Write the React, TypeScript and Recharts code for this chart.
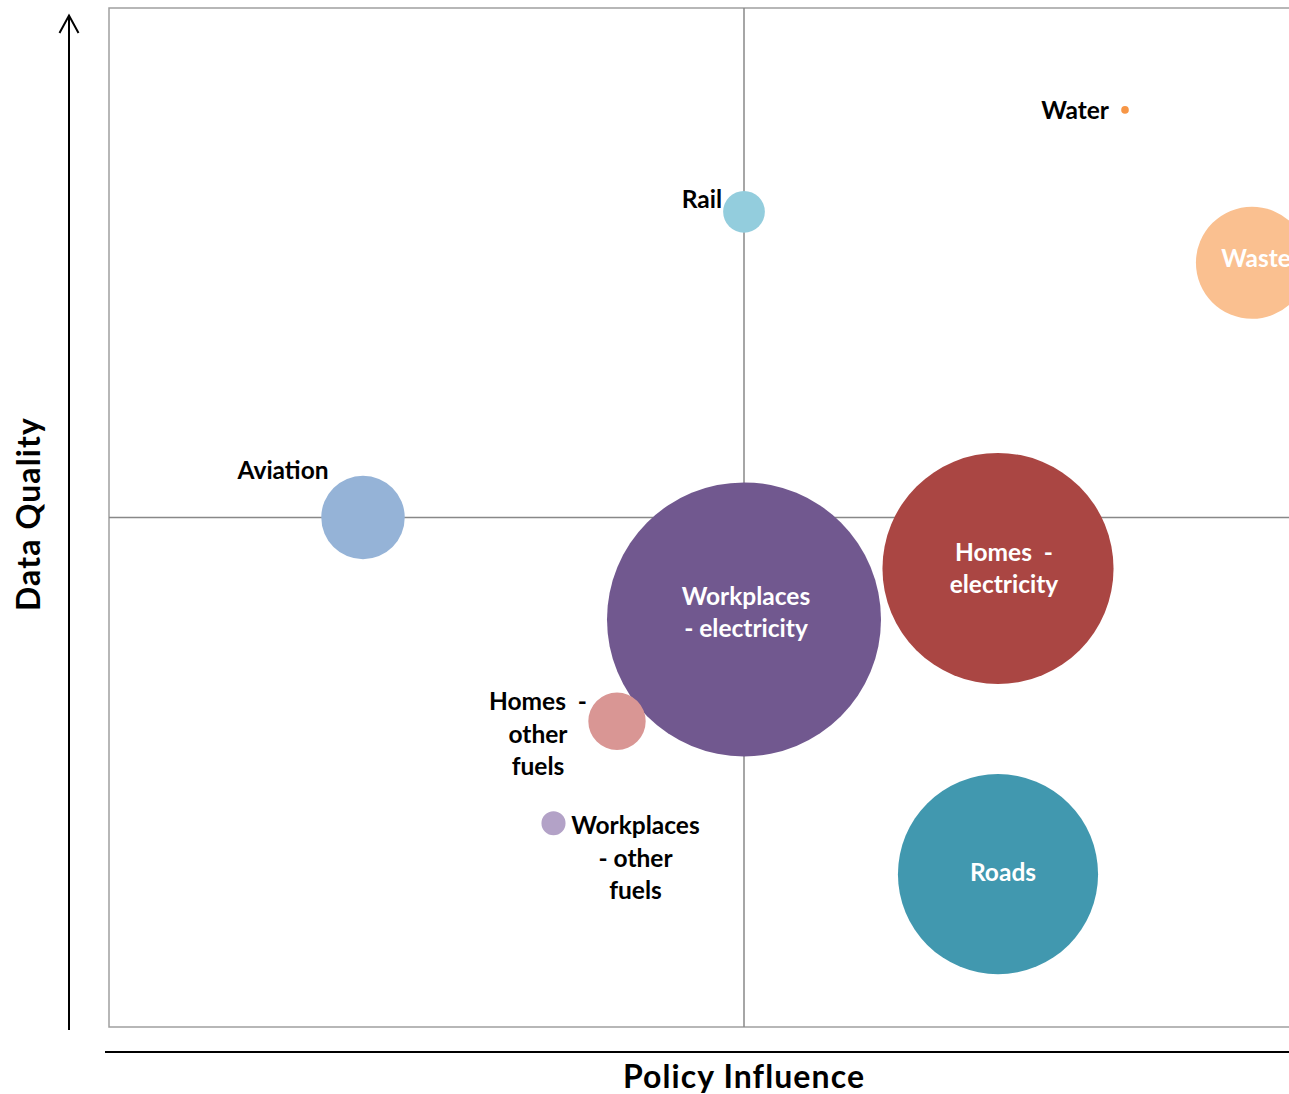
import React from 'react';
import {
  ScatterChart,
  Scatter,
  XAxis,
  YAxis,
  ZAxis,
  Cell,
  LabelList,
  ReferenceLine,
  ReferenceArea,
} from 'recharts';

// ---- Data -------------------------------------------------------------
const categories = [
  'Workplaces - electricity',
  'Homes - electricity',
  'Roads',
  'Waste',
  'Aviation',
  'Homes - other fuels',
  'Rail',
  'Workplaces - other fuels',
  'Water',
];
// x: Policy Influence (0-10)
const policyInfluence = [5, 7, 7, 9, 2, 4, 5, 3.5, 8];
// y: Data Quality (0-10)
const dataQuality = [4, 4.5, 1.5, 7.5, 5, 3, 8, 2, 9];
// bubble size: share of emissions (%)
const emissionsShare = [38.8, 27.6, 20.7, 6.5, 3.6, 1.7, 0.9, 0.3, 0.03];

// ---- Styles -----------------------------------------------------------
const palette = [
  '#71588F',
  '#AA4643',
  '#4198AF',
  '#FAC090',
  '#95B3D7',
  '#D99694',
  '#93CDDD',
  '#B3A2C7',
  '#F79646',
];

type LabelLayout = {
  lines: string[];
  anchor: 'start' | 'middle' | 'end';
  dx: number;
  dy: number;
  color: string;
};

const labelLayout: Record<string, LabelLayout> = {
  'Workplaces - electricity': { lines: ['Workplaces', '- electricity'], anchor: 'middle', dx: 2, dy: -14.5, color: '#FFFFFF' },
  'Homes - electricity': { lines: ['Homes  -', 'electricity'], anchor: 'middle', dx: 6, dy: -7.5, color: '#FFFFFF' },
  Roads: { lines: ['Roads'], anchor: 'middle', dx: 5, dy: 7, color: '#FFFFFF' },
  Waste: { lines: ['Waste'], anchor: 'middle', dx: 4, dy: 4, color: '#FFFFFF' },
  Aviation: { lines: ['Aviation'], anchor: 'middle', dx: -80, dy: -39, color: '#000000' },
  'Homes - other fuels': { lines: ['Homes  -', 'other', 'fuels'], anchor: 'middle', dx: -79, dy: -11, color: '#000000' },
  Rail: { lines: ['Rail'], anchor: 'end', dx: -22, dy: -4, color: '#000000' },
  'Workplaces - other fuels': { lines: ['Workplaces', '- other', 'fuels'], anchor: 'middle', dx: 82, dy: 11, color: '#000000' },
  Water: { lines: ['Water'], anchor: 'end', dx: -16, dy: 9, color: '#000000' },
};

const FONT = 'Lato, "Open Sans", sans-serif';
const LINE_HEIGHT = 32.5;
const MAX_SHARE = Math.max(...emissionsShare);
const MAX_RADIUS = 137;

const bubbles = categories.map((name, i) => ({
  name,
  x: policyInfluence[i],
  y: dataQuality[i],
  z: emissionsShare[i],
}));

const renderBubbleLabel = (props: any) => {
  const vb = props.viewBox ?? props;
  const cx = (vb.x ?? 0) + (vb.width ?? 0) / 2;
  const cy = (vb.y ?? 0) + (vb.height ?? 0) / 2;
  const name = typeof props.value === 'string' ? props.value : categories[props.index];
  const layout = labelLayout[name];
  if (!layout) return null;
  return (
    <text
      key={`lbl-${name}`}
      textAnchor={layout.anchor}
      fill={layout.color}
      fontFamily={FONT}
      fontWeight={700}
      fontSize={24.5}
      style={{ whiteSpace: 'pre' }}
    >
      {layout.lines.map((line, li) => (
        <tspan key={li} x={cx + layout.dx} y={cy + layout.dy + li * LINE_HEIGHT}>
          {line}
        </tspan>
      ))}
    </text>
  );
};

export default function App() {
  return (
    <div
      style={{
        position: 'absolute',
        left: 0,
        top: 0,
        width: 1289,
        height: 1094,
        overflow: 'hidden',
        background: '#FFFFFF',
      }}
    >
      <ScatterChart
        width={1400}
        height={1094}
        margin={{ top: 8, right: 21, bottom: 67, left: 109 }}
      >
        <XAxis type="number" dataKey="x" domain={[0, 10]} hide />
        <YAxis type="number" dataKey="y" domain={[0, 10]} hide />
        <ZAxis
          type="number"
          dataKey="z"
          domain={[0, MAX_SHARE]}
          range={[0, Math.PI * MAX_RADIUS * MAX_RADIUS]}
        />
        <ReferenceArea
          x1={0}
          x2={10}
          y1={0}
          y2={10}
          fill="none"
          fillOpacity={0}
          stroke="#A0A0A0"
          strokeWidth={1.5}
          ifOverflow="visible"
        />
        <ReferenceLine x={5} stroke="#888888" strokeWidth={1.5} />
        <ReferenceLine y={5} stroke="#888888" strokeWidth={1.5} />
        <Scatter data={bubbles} isAnimationActive={false} shape="circle">
          {bubbles.map((b, i) => (
            <Cell key={b.name} fill={palette[i]} stroke="none" />
          ))}
          <LabelList dataKey="name" content={renderBubbleLabel} />
        </Scatter>
      </ScatterChart>
      <svg
        width={1289}
        height={1094}
        style={{ position: 'absolute', left: 0, top: 0, pointerEvents: 'none' }}
      >
        <line x1={69} y1={1030} x2={69} y2={16} stroke="#000000" strokeWidth={2} />
        <polyline
          points="59.5,33 69,15.5 78.5,33"
          fill="none"
          stroke="#000000"
          strokeWidth={2}
        />
        <line x1={105} y1={1052} x2={1289} y2={1052} stroke="#000000" strokeWidth={2} />
        <text
          x={39.5}
          y={514}
          transform="rotate(-90 39.5 514)"
          textAnchor="middle"
          fontFamily={FONT}
          fontWeight={700}
          fontSize={32}
          letterSpacing={1.1}
          fill="#000000"
        >
          Data Quality
        </text>
        <text
          x={744}
          y={1088}
          textAnchor="middle"
          fontFamily={FONT}
          fontWeight={700}
          fontSize={32}
          letterSpacing={1.1}
          fill="#000000"
        >
          Policy Influence
        </text>
      </svg>
    </div>
  );
}
